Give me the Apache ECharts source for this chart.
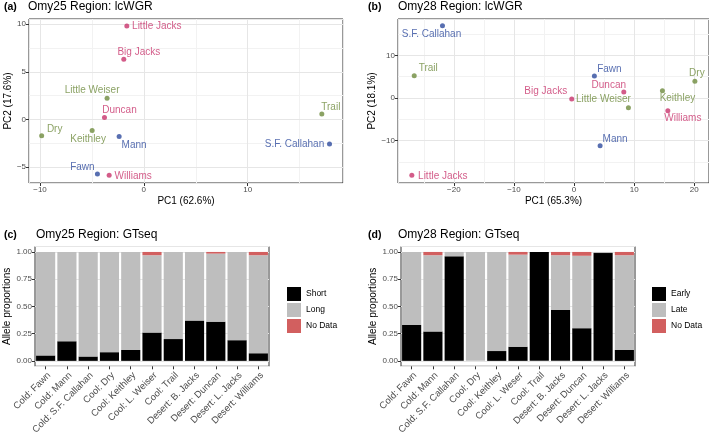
<!DOCTYPE html>
<html>
<head>
<meta charset="utf-8">
<script src="https://cdn.jsdelivr.net/npm/echarts@6/dist/echarts.min.js"></script>
<style>
  html, body { margin: 0; padding: 0; background: #fff; }
  #chart { width: 709px; height: 437px; }
</style>
</head>
<body>
<div id="chart"></div>
<script>
// sites / regions shared by the two PCA panels
const sites = ['Fawn', 'Mann', 'S.F. Callahan', 'Dry', 'Keithley', 'Little Weiser', 'Trail', 'Big Jacks', 'Duncan', 'Little Jacks', 'Williams']
const regions = ['Cold', 'Cold', 'Cold', 'Cool', 'Cool', 'Cool', 'Cool', 'Desert', 'Desert', 'Desert', 'Desert']

// (a) Omy25 lcWGR
const pc1A = [-4.47, -2.38, 17.88, -9.84, -4.98, -3.54, 17.14, -1.93, -3.79, -1.64, -3.34]
const pc2A = [-5.75, -1.82, -2.60, -1.72, -1.19, 2.21, 0.56, 6.32, 0.18, 9.82, -5.89]

// (b) Omy28 lcWGR
const pc1B = [3.38, 4.33, -21.9, 20.1, 14.7, 9.04, -26.6, -0.39, 8.27, -27.0, 15.6]
const pc2B = [5.16, -11.2, 16.9, 3.9, 1.72, -2.27, 5.23, -0.23, 1.41, -18.1, -2.97]

// (c) Omy25 GTseq
const popsC = ['Cold: Fawn', 'Cold: Mann', 'Cold: S.F. Callahan', 'Cool: Dry', 'Cool: Keithley', 'Cool: L. Weiser', 'Cool: Trail', 'Desert: B. Jacks', 'Desert: Duncan', 'Desert: L. Jacks', 'Desert: Williams']
const shortC = [0.05, 0.18, 0.04, 0.08, 0.10, 0.26, 0.20, 0.37, 0.36, 0.19, 0.07]
const longC = [0.95, 0.82, 0.96, 0.92, 0.90, 0.71, 0.80, 0.63, 0.625, 0.81, 0.90]
const noDataC = [0, 0, 0, 0, 0, 0.03, 0, 0, 0.015, 0, 0.03]

// (d) Omy28 GTseq
const popsD = ['Cold: Fawn', 'Cold: Mann', 'Cold: S.F. Callahan', 'Cool: Dry', 'Cool: Keithley', 'Cool: L. Weser', 'Cool: Trail', 'Desert: B. Jacks', 'Desert: Duncan', 'Desert: L. Jacks', 'Desert: Williams']
const earlyD = [0.33, 0.27, 0.96, 0, 0.09, 0.13, 1.00, 0.47, 0.30, 0.99, 0.10]
const lateD = [0.67, 0.70, 0.04, 1.00, 0.91, 0.845, 0, 0.50, 0.665, 0.01, 0.87]
const noDataD = [0, 0.03, 0, 0, 0, 0.025, 0, 0.03, 0.035, 0, 0.03]

// tick labels
const ticksAx = [-10, 0, 10]
const ticksAy = [-5, 0, 5, 10]
const ticksBx = [-20, -10, 0, 10, 20]
const ticksBy = [-10, 0, 10]
const ticksBar = [0, 0.25, 0.5, 0.75, 1]

// axis ranges
const rangeAx = [-11.06, 19.18]
const rangeAy = [-6.7, 10.55]
const rangeBx = [-29.3, 22.45]
const rangeBy = [-19.9, 18.5]

// label placement (label centre relative to point, px)
const offA = {
  'Fawn': [-15, -7], 'Mann': [15, 9], 'S.F. Callahan': [-35, 0], 'Dry': [13, -6],
  'Keithley': [-4, 9], 'Little Weiser': [-15, -8], 'Trail': [9, -7], 'Big Jacks': [15, -7],
  'Duncan': [15, -7], 'Little Jacks': [30, 0], 'Williams': [24, 1]
}
const offB = {
  'Fawn': [15, -7], 'Mann': [15, -7], 'S.F. Callahan': [-11, 8], 'Dry': [2, -8],
  'Keithley': [15, 8], 'Little Weiser': [-25, -8], 'Trail': [14, -7], 'Big Jacks': [-26, -8],
  'Duncan': [-15, -7], 'Little Jacks': [31, 1], 'Williams': [15, 8]
}

const regionColor = { Cold: '#2E4B9E', Cool: '#6E8B3D', Desert: '#C8336B' }
const FONT = 'Liberation Sans, Arial, Helvetica, sans-serif'
const MAJOR = '#E6E6E6'
const MINOR = '#F2F2F2'

const onTick = (v, ticks) => ticks.some(t => Math.abs(t - v) < 1e-6)
const fmtNum = ticks => v => (onTick(v, ticks) ? (v < 0 ? '\u2212' + Math.abs(v) : String(v)) : '')
const fmtProp = ticks => v => (onTick(v, ticks) ? v.toFixed(2) : '')

// minor grid = half way between major ticks (one step past each end too)
function minors(ticks, range) {
  const step = ticks[1] - ticks[0]
  const out = []
  for (let v = ticks[0] - step / 2; v <= ticks[ticks.length - 1] + step; v += step) {
    if (v > range[0] && v < range[1]) out.push(v)
  }
  return out
}

// grid lines of a PCA panel, drawn as mark lines through the axes
function gridLines(xt, yt, xr, yr) {
  const data = []
  minors(xt, xr).forEach(v => data.push({ xAxis: v, lineStyle: { color: MINOR } }))
  minors(yt, yr).forEach(v => data.push({ yAxis: v, lineStyle: { color: MINOR } }))
  xt.forEach(v => data.push({ xAxis: v, lineStyle: { color: MAJOR } }))
  yt.forEach(v => data.push({ yAxis: v, lineStyle: { color: MAJOR } }))
  return {
    silent: true, animation: false, z: 1,
    symbol: ['none', 'none'],
    label: { show: false },
    emphasis: { disabled: true },
    lineStyle: { type: 'solid', width: 1 },
    data: data
  }
}

function valAxis(gi, range, step, fmt, name, gap, minor) {
  return {
    type: 'value', gridIndex: gi, min: range[0], max: range[1],
    minInterval: step, maxInterval: step,
    name: name, nameLocation: 'middle', nameGap: gap,
    nameTextStyle: { fontSize: 10, color: '#000' },
    axisLine: { show: false, onZero: false },
    axisTick: { show: true, length: 3, lineStyle: { color: '#333' } },
    axisLabel: { fontSize: 8, color: '#4D4D4D', margin: 3, showMinLabel: false, showMaxLabel: false, formatter: fmt },
    splitLine: { show: true, lineStyle: { color: MAJOR, width: 1 } },
    minorTick: { show: false, splitNumber: 2 },
    minorSplitLine: { show: minor, lineStyle: { color: MINOR, width: 1 } }
  }
}

function catAxis(gi, cats) {
  return {
    type: 'category', gridIndex: gi, data: cats,
    axisLine: { show: false, onZero: false },
    axisTick: { show: true, alignWithLabel: true, length: 3, lineStyle: { color: '#333' } },
    axisLabel: { fontSize: 9.5, color: '#4D4D4D', rotate: 45, interval: 0, margin: 4, verticalAlign: 'top' },
    splitLine: { show: false }
  }
}

function pcaSeries(ai, xs, ys, offs, marks) {
  return ['Cold', 'Cool', 'Desert'].map((r, k) => {
    const s = {
      type: 'scatter', xAxisIndex: ai, yAxisIndex: ai, z: 3,
      symbol: 'circle', symbolSize: 5,
      itemStyle: { color: regionColor[r] },
      emphasis: { disabled: true },
      label: {
        show: true, position: 'inside', formatter: '{b}',
        color: regionColor[r], fontSize: 10, fontFamily: FONT
      },
      data: sites.map((n, i) => ({ n, i })).filter(o => regions[o.i] === r).map(o => ({
        name: o.n, value: [xs[o.i], ys[o.i]], label: { offset: offs[o.n] }
      }))
    }
    if (k === 0) s.markLine = marks
    return s
  })
}

function barSeries(ai, names, arrs, colors) {
  return names.map((n, k) => ({
    type: 'bar', name: n, stack: 's' + ai, xAxisIndex: ai, yAxisIndex: ai,
    barCategoryGap: '10%', itemStyle: { color: colors[k] },
    emphasis: { disabled: true },
    data: arrs[k]
  }))
}

function titles(letter, text, xl, xt, y) {
  return [
    { text: letter, left: xl, top: y, padding: 0, textStyle: { fontSize: 10.5, fontWeight: 'bold', color: '#000', fontFamily: FONT } },
    { text: text, left: xt, top: y - 1, padding: 0, textStyle: { fontSize: 12, fontWeight: 'normal', color: '#000', fontFamily: FONT } }
  ]
}

const gridStyle = { show: true, borderColor: '#333', borderWidth: 1, containLabel: false }

const chart = echarts.init(document.getElementById('chart'))
chart.setOption({
  animation: false,
  textStyle: { fontFamily: FONT },
  title: [].concat(
    titles('(a)', 'Omy25 Region: lcWGR', 4, 28, 2),
    titles('(b)', 'Omy28 Region: lcWGR', 368, 398, 2),
    titles('(c)', 'Omy25 Region: GTseq', 4, 36, 229.5),
    titles('(d)', 'Omy28 Region: GTseq', 368, 398, 229.5)
  ),
  legend: [
    { left: 287, top: 287, orient: 'vertical', icon: 'rect', itemWidth: 14, itemHeight: 14, itemGap: 2, padding: 0,
      selectedMode: false, data: ['Short', 'Long', 'No Data'], textStyle: { fontSize: 8.5, color: '#000' } },
    { left: 652, top: 287, orient: 'vertical', icon: 'rect', itemWidth: 14, itemHeight: 14, itemGap: 2, padding: 0,
      selectedMode: false, data: ['Early', 'Late', 'No Data'], textStyle: { fontSize: 8.5, color: '#000' } }
  ],
  grid: [
    Object.assign({ left: 29, top: 19, width: 314, height: 164 }, gridStyle),
    Object.assign({ left: 398, top: 19, width: 311, height: 164 }, gridStyle),
    Object.assign({ left: 35, top: 246.5, width: 234, height: 121 }, gridStyle),
    Object.assign({ left: 401, top: 246.5, width: 234, height: 121 }, gridStyle)
  ],
  xAxis: [
    valAxis(0, rangeAx, 10, fmtNum(ticksAx), 'PC1 (62.6%)', 13, true),
    valAxis(1, rangeBx, 10, fmtNum(ticksBx), 'PC1 (65.3%)', 13, true),
    catAxis(2, popsC),
    catAxis(3, popsD)
  ],
  yAxis: [
    valAxis(0, rangeAy, 5, fmtNum(ticksAy), 'PC2 (17.6%)', 14, true),
    valAxis(1, rangeBy, 10, fmtNum(ticksBy), 'PC2 (18.1%)', 17, true),
    valAxis(2, [-0.05, 1.05], 0.25, fmtProp(ticksBar), 'Allele proportions', 23, false),
    valAxis(3, [-0.05, 1.05], 0.25, fmtProp(ticksBar), 'Allele proportions', 23, false)
  ],
  series: [].concat(
    pcaSeries(0, pc1A, pc2A, offA, gridLines(ticksAx, ticksAy, rangeAx, rangeAy)),
    pcaSeries(1, pc1B, pc2B, offB, gridLines(ticksBx, ticksBy, rangeBx, rangeBy)),
    barSeries(2, ['Short', 'Long', 'No Data'], [shortC, longC, noDataC], ['#000000', '#BEBEBE', '#D25F5F']),
    barSeries(3, ['Early', 'Late', 'No Data'], [earlyD, lateD, noDataD], ['#000000', '#BEBEBE', '#D25F5F'])
  )
})
</script>
</body>
</html>
